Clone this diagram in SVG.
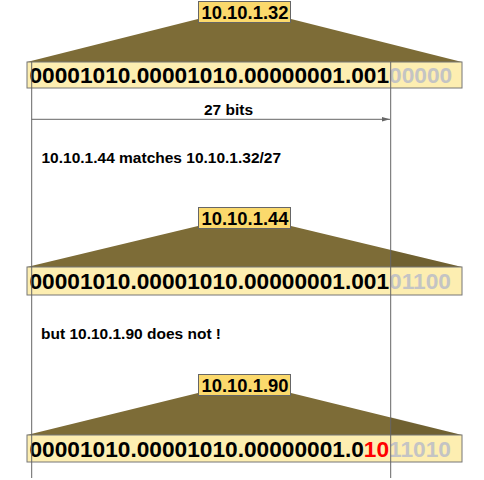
<svg xmlns="http://www.w3.org/2000/svg" width="484" height="480" viewBox="0 0 484 480">
<style>
.trap{fill:#7d6c37}
.shade{fill:#000;fill-opacity:0.1}
.bits{fill:#fdeeb1;stroke:#777;stroke-width:1}
.lab{fill:#fbd96c;stroke:#666;stroke-width:1}
.bt{font-family:"Liberation Sans",Arial,sans-serif;font-weight:bold;font-size:22.7px;fill:#000}
.lt{font-family:"Liberation Sans",Arial,sans-serif;font-weight:bold;font-size:18.4px;fill:#000;text-anchor:middle}
.nt{font-family:"Liberation Sans",Arial,sans-serif;font-weight:bold;font-size:15.5px;fill:#000}
.g{fill:#c4c4c4}
.r{fill:#ff0000}
.ln{stroke:#666;stroke-width:1;fill:none}
</style>
<defs>
<marker id="ah" markerWidth="8" markerHeight="6" refX="8" refY="3" orient="auto" markerUnits="userSpaceOnUse">
<path d="M0,0.8 L8,3 L0,5.2 Z" fill="#666"/>
</marker>
</defs>
<g id="addr1">
<polygon class="trap" points="27,62 198,19 291,19 462,62"/>
<rect class="bits" x="27" y="62" width="435" height="26"/>
<text class="bt" x="29.5" y="83">00001010.00001010.00000001.001<tspan class="g">00000</tspan></text>
<rect class="lab" x="198.5" y="1.5" width="92" height="21"/>
<text class="lt" x="245" y="19">10.10.1.32</text>
</g>
<g id="addr2">
<polygon class="trap" points="27,267 198,226 291,226 462,267"/>
<polygon class="shade" points="390.7,250 462,267 390.7,267"/>
<rect class="bits" x="27" y="267" width="435" height="28"/>
<text class="bt" x="29.5" y="289">00001010.00001010.00000001.001<tspan class="g">01100</tspan></text>
<rect class="lab" x="198.5" y="207.5" width="92" height="21"/>
<text class="lt" x="245" y="224.5">10.10.1.44</text>
</g>
<g id="addr3">
<polygon class="trap" points="27,435 198,393 291,393 462,435"/>
<polygon class="shade" points="390.7,417 462,435 390.7,435"/>
<rect class="bits" x="27" y="435" width="435" height="27"/>
<text class="bt" x="29.5" y="457">00001010.00001010.00000001.0<tspan class="r">10</tspan><tspan class="g">11010</tspan></text>
<rect class="lab" x="198.5" y="374.5" width="92" height="21"/>
<text class="lt" x="245" y="391.5">10.10.1.90</text>
</g>
<g id="notes">
<text class="nt" x="228.5" y="115" text-anchor="middle">27 bits</text>
<text class="nt" x="41.5" y="162.7">10.10.1.44 matches 10.10.1.32/27</text>
<text class="nt" x="41" y="339">but 10.10.1.90 does not !</text>
</g>
<g id="connectors">
<line class="ln" x1="31.7" y1="62" x2="31.7" y2="478"/>
<line class="ln" x1="390.7" y1="62" x2="390.7" y2="478"/>
<line class="ln" x1="31.7" y1="119.3" x2="390" y2="119.3" marker-end="url(#ah)"/>
</g>
</svg>
